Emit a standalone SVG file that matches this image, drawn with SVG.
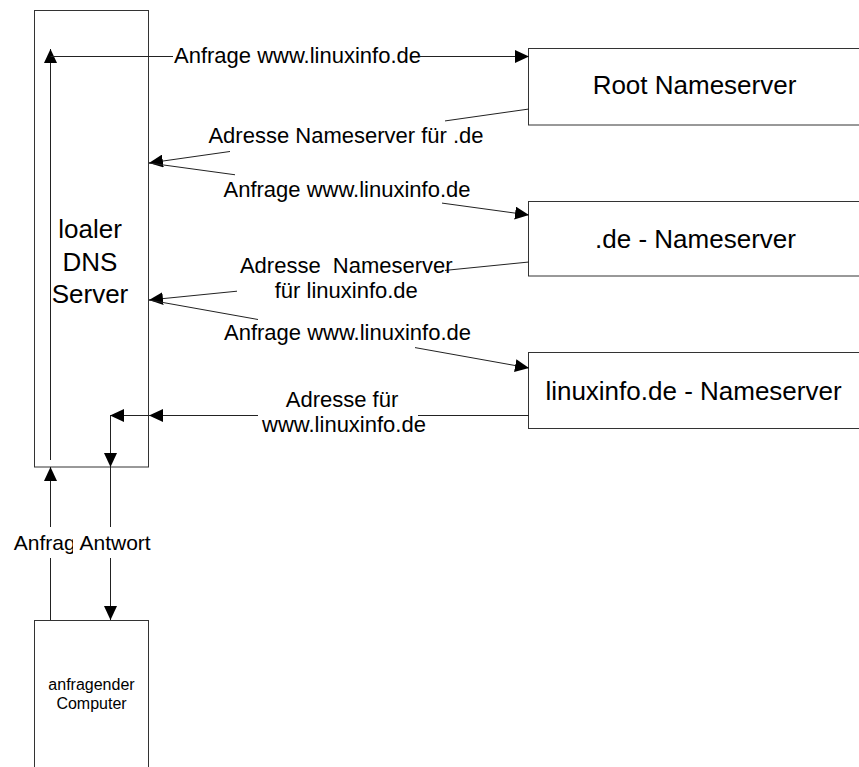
<svg xmlns="http://www.w3.org/2000/svg" width="859" height="767" viewBox="0 0 859 767">
<style>
.box{fill:#fff;stroke:#333;stroke-width:1}
.ln{fill:none;stroke:#222;stroke-width:1}
.bg{fill:#fff;stroke:none}
text{font-family:"Liberation Sans",Arial,sans-serif;fill:#000}
.nl{font-size:26px;text-anchor:middle}
.cl{font-size:22px;text-anchor:middle}
.sm{font-size:16px;text-anchor:middle}
</style>
<defs>
<marker id="ah" markerUnits="userSpaceOnUse" markerWidth="14" markerHeight="13" refX="14" refY="6.5" orient="auto">
<path d="M0,0 L14,6.5 L0,13 z" fill="#000"/>
</marker>
</defs>
<rect width="859" height="767" fill="#fff"/>
<g id="dns">
<rect class="box" x="34.5" y="10.5" width="114" height="456.5"/>
<text class="nl" x="90" y="238.3">loaler</text>
<text class="nl" x="90" y="271">DNS</text>
<text class="nl" x="90" y="303.3">Server</text>
</g>
<g id="computer">
<rect class="box" x="34.5" y="620.5" width="114" height="200"/>
<text class="sm" x="91.5" y="689.5">anfragender</text>
<text class="sm" x="91.5" y="708.5">Computer</text>
</g>
<g id="root">
<rect class="box" x="528.5" y="48.5" width="340" height="76.5"/>
<text class="nl" x="694.5" y="94">Root Nameserver</text>
</g>
<g id="de">
<rect class="box" x="528.5" y="201.5" width="340" height="74.5"/>
<text class="nl" x="695.5" y="248">.de - Nameserver</text>
</g>
<g id="linuxinfo">
<rect class="box" x="528.5" y="352.5" width="340" height="76"/>
<text class="nl" x="693.5" y="400">linuxinfo.de - Nameserver</text>
</g>
<g id="connectors">
<line class="ln" x1="50.5" y1="460" x2="50.5" y2="49" marker-end="url(#ah)"/>
<line class="ln" x1="50.5" y1="56.5" x2="529" y2="56.5" marker-end="url(#ah)"/>
<line class="ln" x1="529" y1="109" x2="149" y2="163" marker-end="url(#ah)"/>
<line class="ln" x1="149" y1="163" x2="529" y2="215" marker-end="url(#ah)"/>
<line class="ln" x1="529" y1="262" x2="149" y2="300" marker-end="url(#ah)"/>
<line class="ln" x1="149" y1="300" x2="529" y2="368" marker-end="url(#ah)"/>
<line class="ln" x1="529" y1="415.5" x2="149" y2="415.5" marker-end="url(#ah)"/>
<line class="ln" x1="149" y1="415.5" x2="110" y2="415.5" marker-end="url(#ah)"/>
<line class="ln" x1="110.5" y1="415.5" x2="110.5" y2="467" marker-end="url(#ah)"/>
<line class="ln" x1="110.5" y1="467" x2="110.5" y2="620" marker-end="url(#ah)"/>
<line class="ln" x1="50.5" y1="620" x2="50.5" y2="467" marker-end="url(#ah)"/>
</g>
<g id="labels">
<rect class="bg" x="173" y="44" width="247" height="24"/>
<text class="cl" x="297.5" y="63.3">Anfrage www.linuxinfo.de</text>
<rect class="bg" x="230" y="118" width="215" height="36"/>
<text class="cl" x="346" y="142.7">Adresse Nameserver für .de</text>
<rect class="bg" x="235" y="170" width="207" height="36"/>
<text class="cl" x="347" y="196.7">Anfrage www.linuxinfo.de</text>
<rect class="bg" x="237" y="255" width="208" height="47"/>
<text class="cl" x="346.3" y="273.3" xml:space="preserve">Adresse  Nameserver</text>
<text class="cl" x="346.3" y="298.3">für linuxinfo.de</text>
<rect class="bg" x="258" y="305" width="157" height="45"/>
<text class="cl" x="347.5" y="340">Anfrage www.linuxinfo.de</text>
<rect class="bg" x="258" y="390" width="160" height="46"/>
<text class="cl" x="342" y="406.7">Adresse für</text>
<text class="cl" x="344" y="431.7">www.linuxinfo.de</text>
<rect class="bg" x="13" y="527" width="60" height="31"/>
<text style="font-size:21px;text-anchor:middle" x="50.5" y="550">Anfrage</text>
<rect class="bg" x="73" y="527" width="79" height="31"/>
<text style="font-size:21px" x="79.5" y="550">Antwort</text>
</g>
</svg>
